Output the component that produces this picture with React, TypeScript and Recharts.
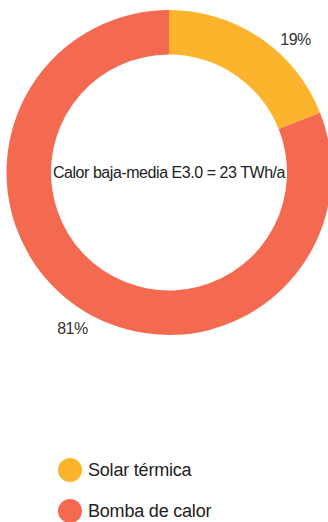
import React from 'react';
import { PieChart, Pie, Cell, Legend } from 'recharts';

const categories = ['Solar térmica', 'Bomba de calor'];
const values = [19, 81];
const colors = ['#FBB42C', '#F36A51'];
const centerTitle = 'Calor baja-media E3.0 = 23 TWh/a';

const data = categories.map((name, i) => ({ name, value: values[i] }));

const FONT = '"Liberation Sans", Arial, Helvetica, sans-serif';

const RADIAN = Math.PI / 180;
const renderLabel = (props: any) => {
  const { cx, cy, midAngle, outerRadius, value } = props;
  const r = outerRadius + 20;
  const x = cx + r * Math.cos(-midAngle * RADIAN);
  const y = cy + r * Math.sin(-midAngle * RADIAN);
  const right = x > cx;
  // labels are nudged outward/downward like the reference
  const dx = right ? 24 : 6;
  const dy = right ? 18 : 5;
  return (
    <text
      x={x + dx}
      y={y + dy}
      textAnchor="middle"
      dominantBaseline="central"
      fill="#333"
      fontSize={16}
      letterSpacing={-0.5}
      fontFamily={FONT}
    >
      {`${value}%`}
    </text>
  );
};

const renderLegend = (props: any) => {
  const payload = [...(props.payload || [])].sort(
    (a: any, b: any) => categories.indexOf(a.value) - categories.indexOf(b.value)
  );
  return (
    <div style={{ fontFamily: FONT }}>
      {payload.map((entry: any, i: number) => (
        <div key={i} style={{ display: 'flex', alignItems: 'center', height: 24, marginBottom: 17 }}>
          <svg width={24} height={24} style={{ marginRight: 6 }}>
            <circle cx={12} cy={12} r={12} fill={entry.color} />
          </svg>
          <span style={{ fontSize: 18, color: '#222', letterSpacing: -0.2 }}>{entry.value}</span>
        </div>
      ))}
    </div>
  );
};

export default function App() {
  return (
    <div style={{ position: 'absolute', left: 0, top: 0, width: 328, height: 522, background: '#fff' }}>
      <PieChart width={328} height={522} margin={{ top: 0, right: 0, bottom: 0, left: 0 }}>
        <Pie
          data={data}
          dataKey="value"
          nameKey="name"
          cx={169}
          cy={172.5}
          innerRadius={118}
          outerRadius={162.5}
          startAngle={90}
          endAngle={-270}
          stroke="none"
          label={renderLabel}
          labelLine={false}
          isAnimationActive={false}
        >
          {data.map((d, i) => (
            <Cell key={d.name} fill={colors[i]} />
          ))}
        </Pie>
        <text x={169} y={172.5} textAnchor="middle" dominantBaseline="central" fill="#222" fontSize={16} fontFamily={FONT} letterSpacing={-0.45}>
          {centerTitle}
        </text>
        <Legend
          layout="horizontal"
          verticalAlign="bottom"
          align="left"
          content={renderLegend}
          wrapperStyle={{ left: 58, top: 458, bottom: 'auto', width: 250 }}
        />
      </PieChart>
    </div>
  );
}
